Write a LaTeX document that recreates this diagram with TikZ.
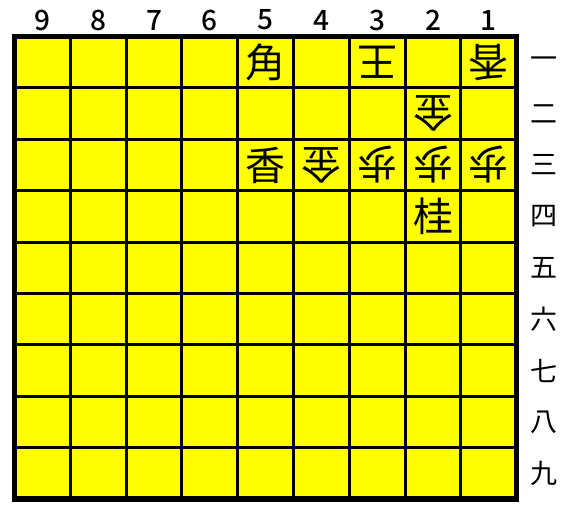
\documentclass[tikz,border=0pt]{standalone}
\usepackage{fontspec}
\setmainfont{Noto Sans CJK JP}
\newfontfamily\jp{Noto Sans CJK JP}
\newfontfamily\jpm{Noto Sans CJK JP Medium}
\definecolor{boardyellow}{RGB}{255,255,0}
\begin{document}
\begin{tikzpicture}[x=1pt,y=-1pt,
  cellgrid/.style={line width=3pt,black},
  frame/.style={line width=5.5pt,black},
  collabel/.style={font=\jpm\fontsize{28}{28}\selectfont,anchor=center,inner sep=0pt},
  rowlabel/.style={font=\jp\fontsize{27}{27}\selectfont,anchor=center,inner sep=0pt},
  piece/.style={font=\jp\fontsize{40}{40}\selectfont,anchor=center,inner sep=0pt}]
\useasboundingbox (0,0) rectangle (571,504);
\def\xl{14.5}\def\yt{36.5}\def\cw{55.8}\def\ch{51.4}
\fill[boardyellow] (\xl,\yt) rectangle ({\xl+9*\cw},{\yt+9*\ch});
\foreach \i in {1,...,8} {
  \draw[cellgrid] ({\xl+\i*\cw},\yt) -- ({\xl+\i*\cw},{\yt+9*\ch});
  \draw[cellgrid] (\xl,{\yt+\i*\ch}) -- ({\xl+9*\cw},{\yt+\i*\ch});
}
\draw[frame] (\xl,\yt) rectangle ({\xl+9*\cw},{\yt+9*\ch});
% column labels
\foreach \c in {1,...,9} {
  \node[collabel] (col\c) at ({\xl+(9-\c+0.5)*\cw},20) {\c};
}
% row labels
\foreach \r/\k in {1/一,2/二,3/三,4/四,5/五,6/六,7/七,8/八,9/九} {
  \node[rowlabel] (row\r) at (544,{\yt+(\r-0.5)*\ch}) {\k};
}
% pieces: column/row/char/rotation
\foreach \c/\r/\k/\rot [count=\n] in {5/1/角/0,3/1/王/180,1/1/香/180,2/2/金/180,5/3/香/0,4/3/金/180,3/3/歩/180,2/3/歩/180,1/3/歩/180,2/4/桂/0} {
  \node[piece,rotate=\rot] (p\n) at ({\xl+(9-\c+0.5)*\cw},{\yt+(\r-0.5)*\ch}) {\k};
}
\end{tikzpicture}
\end{document}
